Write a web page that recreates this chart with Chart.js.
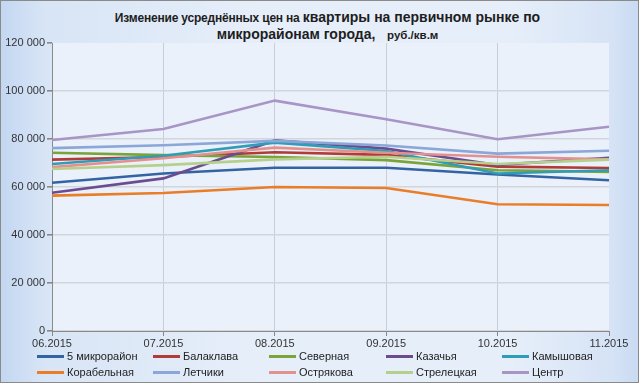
<!DOCTYPE html>
<html><head><meta charset="utf-8">
<script src="https://cdn.jsdelivr.net/npm/chart.js@4"></script>
<style>
html,body{margin:0;padding:0;}
body{width:639px;height:383px;overflow:hidden;}
#wrap{position:absolute;left:0;top:0;width:637px;height:381px;border:1px solid #8a8a8a;
background:linear-gradient(to right,#c4d7f1 0%,#d8e5f6 7%,#e6eef9 40%,#e6eef9 80%,#d6e3f6 96%,#c9daf2 100%);
font-family:"Liberation Sans",Arial,sans-serif;color:#222;}
#title{position:absolute;left:7px;top:8px;width:639px;text-align:center;font-weight:bold;line-height:16px;color:#1e1e1e;}
.t1{font-size:12px;letter-spacing:-0.2px}
.t2{font-size:14px}
.t3{font-size:11.5px}
#c{position:absolute;left:0;top:0;}
#legend{position:absolute;left:0;top:347px;width:639px;height:34px;font-size:11px;color:#222;}
.li{position:absolute;height:16px;line-height:16px;white-space:nowrap;}
.li span.sw{display:inline-block;width:27px;height:3px;vertical-align:middle;margin-right:3px;position:relative;top:-1px;}
</style></head>
<body>
<div id="wrap">
<div id="title"><span class="t1">Изменение усреднённых цен на </span><span class="t2">квартиры на первичном рынке по</span><br><span class="t2">микрорайонам города,&nbsp;&nbsp;&nbsp;</span><span class="t3">руб./кв.м</span></div>
<canvas id="c" width="639" height="383"></canvas>
<div id="legend"></div>
</div>
<script>
const months = ['06.2015','07.2015','08.2015','09.2015','10.2015','11.2015'];
const seriesNames = ['5 микрорайон','Балаклава','Северная','Казачья','Камышовая','Корабельная','Летчики','Острякова','Стрелецкая','Центр'];
const mkr5        = [61800, 65600, 68000, 68000, 65200, 62800];
const balaklava   = [71400, 72500, 74500, 73400, 68500, 67900];
const severnaya   = [74300, 73300, 72500, 71200, 67000, 66300];
const kazachya    = [57600, 63600, 79400, 76000, 69200, 72200];
const kamyshovaya = [69600, 73000, 78500, 75000, 65600, 67000];
const korabelnaya = [56400, 57500, 60000, 59600, 52800, 52500];
const letchiki    = [76200, 77400, 79200, 77300, 73900, 75100];
const ostryakova  = [68300, 72000, 76400, 74300, 72600, 71500];
const streletskaya= [67500, 69100, 71500, 72600, 69600, 71400];
const centr       = [79600, 84200, 96000, 88200, 79900, 85100];
const seriesValues = [mkr5,balaklava,severnaya,kazachya,kamyshovaya,korabelnaya,letchiki,ostryakova,streletskaya,centr];
const colors = ['#3463a3','#b23b37','#78a43a','#6b4c8f','#2f9db6','#e97d28','#8ba7d7','#e3918e','#b6d08b','#a994c6'];
const yMax = 120000, yStep = 20000;

const n = seriesNames.length;
const datasets = seriesNames.map((name,i)=>({
  label:name, data:seriesValues[i], borderColor:colors[i], backgroundColor:colors[i],
  borderWidth:2.6, pointRadius:0, tension:0, fill:false, order:n-i
}));

const plotBg = {id:'plotBg',beforeDraw(chart){const a=chart.chartArea,c=chart.ctx;c.save();c.fillStyle='#eaf1fb';c.fillRect(a.left,a.top,a.right-a.left,a.bottom-a.top);c.restore();}};

function fmt(v){return String(v).replace(/\B(?=(\d{3})+(?!\d))/g,' ');}

new Chart(document.getElementById('c'),{
  type:'line',
  data:{labels:months,datasets},
  options:{
    responsive:false,animation:false,
    layout:{padding:{left:0,right:31,top:42,bottom:0}},
    plugins:{legend:{display:false},title:{display:false},tooltip:{enabled:false}},
    scales:{
      x:{offset:false,
        grid:{color:(ctx)=>ctx.index===months.length-1?'rgba(0,0,0,0)':'#c9ced6',lineWidth:1,tickColor:'#888',tickLength:5,drawTicks:true},
        border:{color:'#8a8a8a',width:1},
        ticks:{color:'#333',font:{family:'"Liberation Sans",Arial,sans-serif',size:11},padding:1,maxRotation:0,autoSkip:false},
        afterFit(s){s.height=53;}
      },
      y:{min:0,max:yMax,
        grid:{color:(ctx)=>ctx.index===yMax/yStep?'rgba(0,0,0,0)':'#d2d6dc',lineWidth:1.6,tickColor:'#888',tickLength:5},
        border:{color:'#8a8a8a',width:1},
        ticks:{stepSize:yStep,color:'#333',font:{family:'"Liberation Sans",Arial,sans-serif',size:11},padding:2,callback:(v)=>fmt(v)},
        afterFit(s){s.width=51;}
      }
    }
  },
  plugins:[plotBg]
});

const leg=document.getElementById('legend');
const colX=[36,152,268,385,501];
seriesNames.forEach((name,i)=>{
  const d=document.createElement('div');d.className='li';
  d.style.left=colX[i%5]+'px';d.style.top=(Math.floor(i/5)*16)+'px';
  const s=document.createElement('span');s.className='sw';s.style.background=colors[i];
  d.appendChild(s);d.appendChild(document.createTextNode(name));leg.appendChild(d);
});
</script>
</body></html>
